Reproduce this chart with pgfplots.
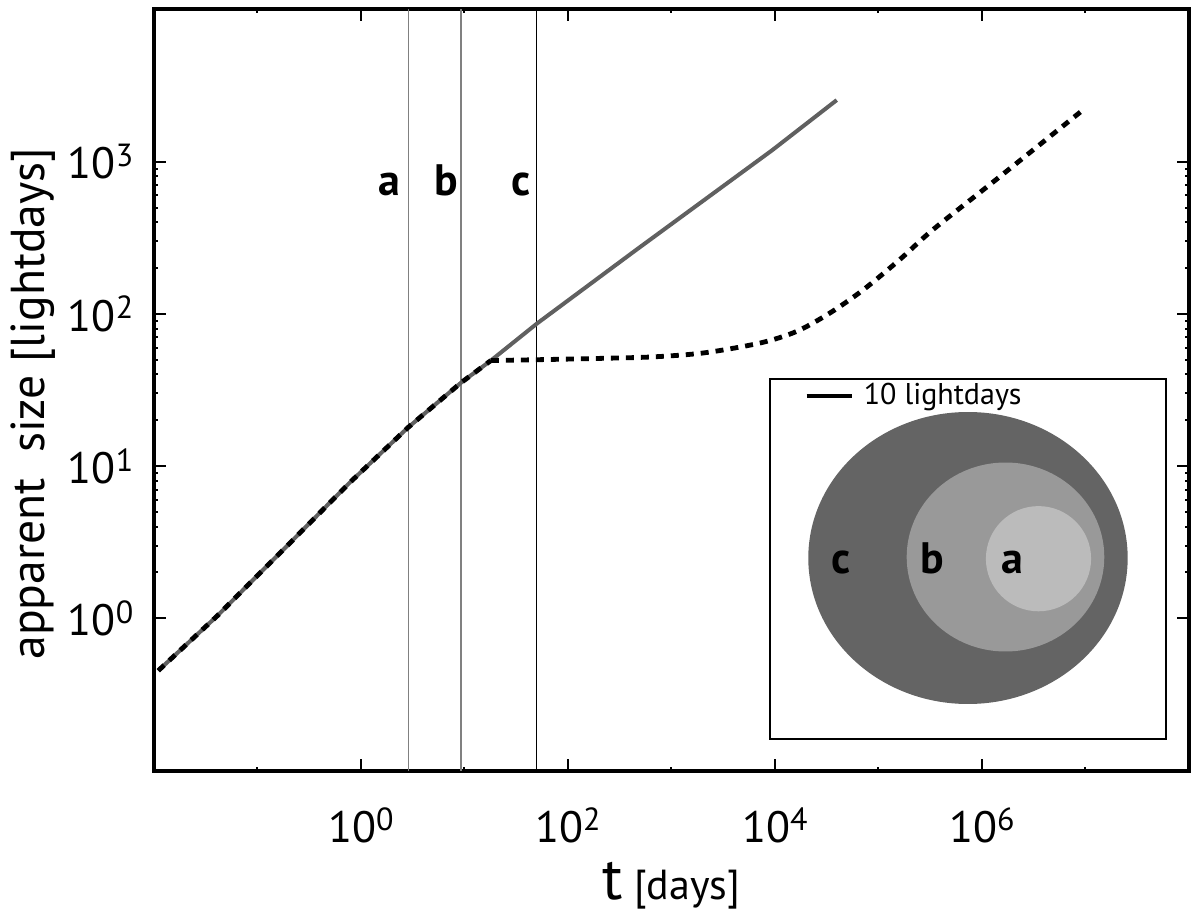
\documentclass[border=0pt]{standalone}
\usepackage{pgfplots}
\pgfplotsset{compat=1.18}
\usepackage{fontspec}
\setmainfont{PT Sans}

\definecolor{curvegray}{HTML}{606060}
\definecolor{regc}{HTML}{646464}
\definecolor{regb}{HTML}{999999}
\definecolor{rega}{HTML}{BBBBBB}

\newcommand{\tenpow}[1]{10\raisebox{0.55ex}{\fontsize{8}{8}\selectfont #1}}

\begin{document}
\begin{tikzpicture}
\begin{axis}[
    name=ax,
    xmode=log, ymode=log,
    scale only axis,
    width=258.75pt, height=190.25pt,
    xmin=1e-2, xmax=1e8,
    ymin=0.1, ymax=1e4,
    axis line style={line width=1pt},
    tick align=inside,
    major tick length=3pt,
    minor tick length=1pt,
    every tick/.append style={black, line width=0.5pt},
    xtick={1,100,10000,1000000},
    xticklabels={\tenpow{0},\tenpow{2},\tenpow{4},\tenpow{6}},
    minor xtick={0.1,10,1000,100000,10000000},
    ytick={1,10,100,1000},
    yticklabels={\tenpow{0},\tenpow{1},\tenpow{2},\tenpow{3}},
    minor ytick={},
    tick label style={font=\fontsize{11}{12}\selectfont},
    xticklabel style={anchor=base, yshift=-18.1pt},
    yticklabel style={anchor=east, inner sep=0pt, xshift=-5pt},
    xlabel={{\fontsize{15}{15}\selectfont t} [days]},
    xlabel style={at={(axis description cs:0.5,-0.170)}, anchor=base, font=\fontsize{10.5}{12}\selectfont},
    ylabel={apparent\ \ size [lightdays]},
    ylabel style={at={(axis description cs:-0.106,0.482)}, anchor=base, font=\fontsize{11.9}{13}\selectfont},
    clip=false,
]

% vertical markers
\addplot[gray, line width=0.4pt] coordinates {(2.87,0.1) (2.87,1e4)};
\addplot[gray, line width=0.4pt] coordinates {(9.25,0.1) (9.25,1e4)};
\addplot[black, line width=0.3pt] coordinates {(50,0.1) (50,1e4)};

% solid curve
\addplot[curvegray, line width=1pt] coordinates {
    (0.011,0.453) (0.041,1.04) (0.18,2.85) (0.78,7.8) (2.84,17.9)
    (9.25,35.3) (18,49.4) (50,86.3) (458,264) (9400,1190) (39500,2540)
};

% dashed curve, before and after the break
\addplot[black, line width=1.2pt, dash pattern=on 2pt off 1.75pt] coordinates {
    (0.011,0.453) (0.041,1.04) (0.18,2.85) (0.78,7.8) (2.84,17.9)
    (9.25,35.3) (18,49.4)
};
\addplot[black, line width=1.2pt, dash pattern=on 2pt off 1.75pt, smooth, tension=0.5] coordinates {
    (18,49.4) (50,50) (200,51) (664,52.2) (2080,55.5)
    (7260,64.5) (16300,76.9) (34100,101.6) (71300,144) (160000,227)
    (335000,357) (1360000,760) (9900000,2243)
};

\node[anchor=base, font=\fontsize{11}{12}\selectfont\bfseries] at (axis cs:1.90,597) {a};
\node[anchor=base, font=\fontsize{11}{12}\selectfont\bfseries] at (axis cs:6.69,597) {b};
\node[anchor=base, font=\fontsize{11}{12}\selectfont\bfseries] at (axis cs:34.8,597) {c};
\end{axis}

% inset sketch
\begin{scope}[shift={(ax.south west)}, x=0.25pt, y=0.25pt]
  \fill[regc] (814,212.5) ellipse [x radius=159.7, y radius=146];
  \fill[regb] (851.5,213.5) ellipse [x radius=98.8, y radius=94.5];
  \fill[rega] (884.5,211.8) circle [radius=52.6];
  \draw[line width=0.5pt] (616,31.2) rectangle (1012,391.2);
  \draw[line width=1pt] (652.7,374.5) -- (697.7,374.5);
  \node[anchor=base west, inner sep=0pt, font=\fontsize{7.5}{8}\selectfont] at (709,365.5) {10 lightdays};
  \node[anchor=base, font=\fontsize{11}{12}\selectfont\bfseries] at (687,197) {c};
  \node[anchor=base, font=\fontsize{11}{12}\selectfont\bfseries] at (778.3,197) {b};
  \node[anchor=base, font=\fontsize{11}{12}\selectfont\bfseries] at (858.3,197) {a};
\end{scope}

\pgfresetboundingbox
\path (ax.south west) ++(-38.5pt,-35.625pt) rectangle ++(298.25pt,228.25pt);
\end{tikzpicture}
\end{document}
